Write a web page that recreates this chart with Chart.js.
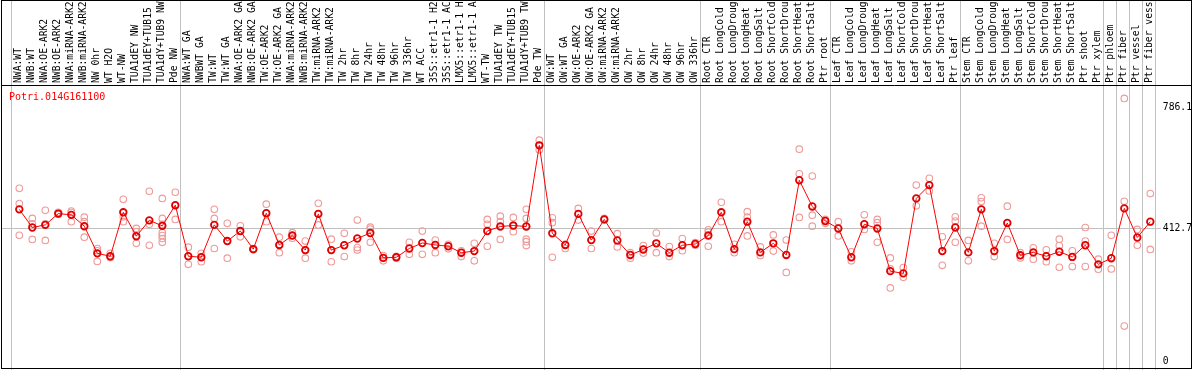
<!DOCTYPE html>
<html>
<head>
<meta charset="utf-8">
<script src="https://cdn.jsdelivr.net/npm/chart.js@4/dist/chart.umd.min.js"></script>
<style>
  body { margin: 0; background: #fff; }
  #wrap { position: relative; width: 1194px; height: 370px; }
  #gene { position: absolute; left: 9px; top: 92px; font: 10px "DejaVu Sans Mono", monospace; line-height: 10px; color: #ff0000; }
</style>
</head>
<body>
<div id="wrap">
  <canvas id="expr" width="1194" height="370"></canvas>
  <div id="gene">Potri.014G161100</div>
</div>
<script>
// sample names (as they show, cut at the top edge)
const labels = [
    'NWA:WT', 'NWB:WT', 'NWA:OE-ARK2', 'NWB:OE-ARK2', 'NWA:miRNA-ARK2', 'NWB:miRNA-ARK2',
    'NW 0hr', 'WT H2O', 'WT-NW', 'TUA1dEY NW', 'TUA1dEY+TUB15', 'TUA1dY+TUB9 NW', 'Pde NW',
    'NWA:WT GA', 'NWBWT GA', 'TW:WT', 'TW:WT GA', 'NWA:OE-ARK2 GA', 'NWB:OE-ARK2 GA',
    'TW:OE-ARK2', 'TW:OE-ARK2 GA', 'NWA:miRNA-ARK2', 'NWB:miRNA-ARK2', 'TW:miRNA-ARK2', 'TW:miRNA-ARK2',
    'TW 2hr', 'TW 8hr', 'TW 24hr', 'TW 48hr', 'TW 96hr', 'TW 336hr', 'WT ACC',
    '35S::etr1-1 H2', '35S::etr1-1 AC', 'LMX5::etr1-1 H', 'LMX5::etr1-1 A',
    'WT-TW', 'TUA1dEY TW', 'TUA1dEY+TUB15', 'TUA1dY+TUB9 TW', 'Pde TW',
    'OW:WT', 'OW:WT GA', 'OW:OE-ARK2', 'OW:OE-ARK2 GA', 'OW:miRNA-ARK2', 'OW:miRNA-ARK2',
    'OW 2hr', 'OW 8hr', 'OW 24hr', 'OW 48hr', 'OW 96hr', 'OW 336hr',
    'Root CTR', 'Root LongCold', 'Root LongDroug', 'Root LongHeat', 'Root LongSalt',
    'Root ShortCold', 'Root ShortDrou', 'Root ShortHeat', 'Root ShortSalt', 'Ptr root',
    'Leaf CTR', 'Leaf LongCold', 'Leaf LongDroug', 'Leaf LongHeat', 'Leaf LongSalt',
    'Leaf ShortCold', 'Leaf ShortDrou', 'Leaf ShortHeat', 'Leaf ShortSalt', 'Ptr leaf',
    'Stem CTR', 'Stem LongCold', 'Stem LongDroug', 'Stem LongHeat', 'Stem LongSalt',
    'Stem ShortCold', 'Stem ShortDrou', 'Stem ShortHeat', 'Stem ShortSalt',
    'Ptr shoot', 'Ptr xylem', 'Ptr phloem', 'Ptr fiber', 'Ptr vessel', 'Ptr fiber vess'
];

// mean expression per sample
const means = [
    471, 415, 423, 458, 454, 419, 335, 326, 462, 388, 437, 420, 484,
    326, 323, 423, 373, 404, 348, 459, 361, 390, 345, 457, 345,
    360, 381, 398, 321, 323, 350, 367, 361, 357, 337, 342,
    404, 418, 421, 418, 669,
    397, 361, 457, 376, 440, 375, 330, 347, 366, 337, 360, 364,
    390, 462, 348, 433, 338, 366, 330, 561, 480, 435,
    412, 323, 425, 412, 280, 273, 505, 546, 342, 415,
    338, 471, 342, 429, 329, 338, 326, 340, 324,
    360, 301, 320, 474, 384, 433
];

// single replicates per sample
const reps = [
    [536, 489, 391], [443, 426, 378], [468, 426, 375], [462, 456, 456], [466, 433, 461], [447, 433, 385],
    [350, 343, 310], [335, 322, 323], [502, 448, 433], [412, 402, 366], [527, 425, 360],
    [505, 443, 425, 399, 390, 381, 369], [524, 482, 440],
    [354, 326, 301], [335, 323, 309], [471, 443, 350], [428, 373, 320], [420, 404, 386], [350, 346, 348],
    [487, 459, 433], [385, 361, 337], [399, 390, 382], [373, 345, 320], [490, 457, 423], [379, 345, 309],
    [397, 360, 325], [438, 353, 345], [416, 410, 369], [328, 321, 312], [326, 320], [369, 332], [404, 332],
    [376, 337], [363, 349], [343, 325], [366, 312],
    [440, 425, 357], [450, 433, 378], [446, 421, 402], [471, 443, 418, 379, 371, 359], [685, 669, 655],
    [445, 430, 323], [363, 350], [474, 438], [404, 350], [443, 438], [396, 355],
    [337, 320], [359, 336], [398, 337], [356, 325], [381, 343], [368, 360],
    [408, 400, 357], [493, 433], [363, 337], [464, 447, 389], [355, 328],
    [392, 342], [376, 276], [657, 581, 446], [574, 453, 419], [440, 428],
    [433, 389], [340, 312], [454, 409], [440, 430, 369], [321, 287, 228],
    [291, 261], [546, 482], [567, 528], [386, 298], [448, 435, 369],
    [375, 312], [507, 495, 419], [366, 325], [481, 378], [337, 321],
    [352, 317], [346, 309], [379, 359, 292], [343, 294],
    [415, 373, 294], [317, 286], [391, 287], [814, 496, 110], [409, 360], [520, 347]
];

const yTicks = [0, 412.7, 786.1];
const refLine = 412.7;
// first sample of each group (gray separators)
const groupStarts = [0, 13, 41, 53, 63, 73, 84, 85, 86, 87, 88];

const monoFont = { family: '"DejaVu Sans Mono", monospace', size: 9.7 };

// separators, reference line and outer frame
const frame = {
    id: 'frame',
    beforeDatasetsDraw(chart) {
        const { ctx, scales: { x, y } } = chart;
        ctx.save();
        ctx.strokeStyle = '#c0c0c0';
        ctx.lineWidth = 1;
        ctx.beginPath();
        groupStarts.forEach(k => {
            const px = Math.round(x.getPixelForValue(k) - 8) + 0.5;
            ctx.moveTo(px, 0);
            ctx.lineTo(px, chart.height);
        });
        const gy = Math.round(y.getPixelForValue(refLine)) + 0.5;
        ctx.moveTo(1, gy);
        ctx.lineTo(x.right + 4, gy);
        ctx.stroke();
        ctx.restore();
    },
    afterDraw(chart) {
        const { ctx, chartArea } = chart;
        ctx.save();
        ctx.strokeStyle = '#000';
        ctx.lineWidth = 1;
        ctx.strokeRect(1.5, 0.5, 1190, 368);
        ctx.beginPath();
        ctx.moveTo(1, Math.round(chartArea.top) + 0.5);
        ctx.lineTo(1192, Math.round(chartArea.top) + 0.5);
        ctx.stroke();
        ctx.restore();
    }
};

new Chart(document.getElementById('expr'), {
    type: 'line',
    data: {
        datasets: [{
            label: 'mean',
            data: means.map((v, i) => ({ x: i, y: v })),
            borderColor: '#ff0000',
            borderWidth: 1,
            pointRadius: 3.3,
            pointBorderWidth: 1.8,
            pointBorderColor: '#e00000',
            pointBackgroundColor: 'rgba(0,0,0,0)',
            order: 0
        }, {
            label: 'replicates',
            data: reps.flatMap((r, i) => r.map(v => ({ x: i, y: v }))),
            showLine: false,
            pointRadius: 3.3,
            pointBorderWidth: 1.1,
            pointBorderColor: '#f09a9a',
            pointBackgroundColor: 'rgba(0,0,0,0)',
            order: 1
        }]
    },
    options: {
        responsive: false,
        animation: false,
        layout: { autoPadding: false, padding: { left: 12.8, top: 0, right: 0, bottom: 0 } },
        plugins: {
            legend: { display: false },
            tooltip: { enabled: false }
        },
        scales: {
            x: {
                type: 'linear',
                position: 'top',
                min: -0.5,
                max: 87.5,
                afterBuildTicks: s => { s.ticks = labels.map((_, i) => ({ value: i })); },
                afterFit: s => { s.height = 85; s.paddingLeft = 0; s.paddingRight = 0; },
                grid: { display: false, drawTicks: false },
                border: { display: false },
                ticks: {
                    autoSkip: false,
                    minRotation: 90,
                    maxRotation: 90,
                    padding: 2,
                    labelOffset: 11,
                    color: '#000',
                    font: monoFont,
                    callback: v => labels[v]
                }
            },
            y: {
                position: 'right',
                min: -25.7,
                max: 855.6,
                afterBuildTicks: s => { s.ticks = yTicks.map(v => ({ value: v })); },
                afterFit: s => { s.width = 37.2; s.paddingTop = 0; s.paddingBottom = 0; },
                grid: { display: false, drawTicks: false },
                border: { display: false },
                ticks: {
                    padding: 6,
                    color: '#000',
                    font: monoFont,
                    callback: v => String(v)
                }
            }
        }
    },
    plugins: [frame]
});
</script>
</body>
</html>
